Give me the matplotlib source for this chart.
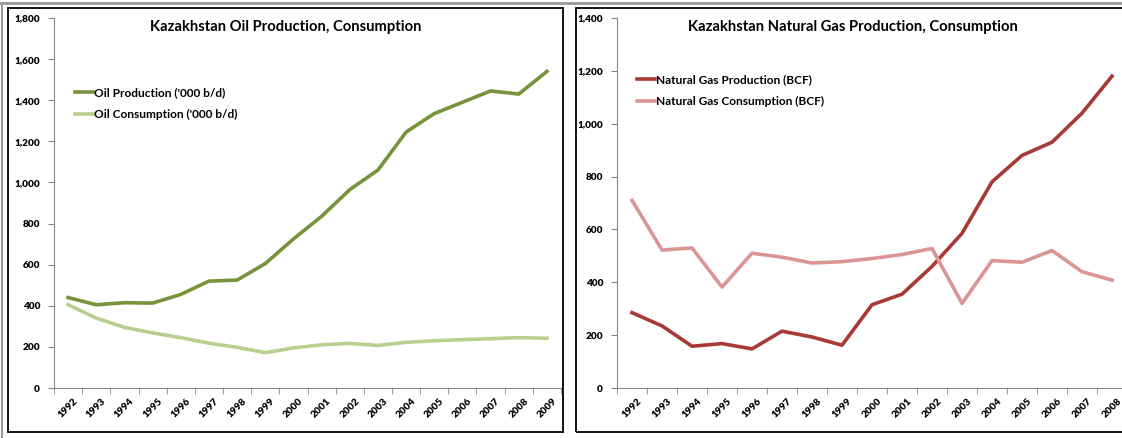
import matplotlib.pyplot as plt
from matplotlib.patches import Rectangle
from matplotlib.lines import Line2D

plt.rcParams['font.family'] = ['Lato', 'DejaVu Sans']

oil_years = [str(y) for y in range(1992, 2010)]
oil_production = [440, 405, 415, 413, 455, 520, 525, 605, 725, 835,
                  965, 1060, 1245, 1335, 1390, 1445, 1430, 1540]
oil_consumption = [405, 340, 295, 268, 245, 218, 198, 172, 195, 210,
                   217, 207, 222, 230, 235, 240, 245, 242]

gas_years = [str(y) for y in range(1992, 2009)]
gas_production = [285, 235, 158, 168, 148, 215, 193, 162, 315, 355,
                  460, 585, 780, 880, 930, 1040, 1180]
gas_consumption = [710, 522, 530, 382, 510, 495, 473, 478, 490, 505,
                   528, 320, 482, 476, 520, 440, 408]

W, H = 1122, 438
fig = plt.figure(figsize=(W / 100, H / 100), dpi=100)


def px_box(x0, y0, x1, y1):
    # pixel box (top-left origin) -> figure fraction [l, b, w, h]
    return [x0 / W, 1 - y1 / H, (x1 - x0) / W, (y1 - y0) / H]


# document lines and chart frames
fig.add_artist(Line2D([0, 1], [1 - 3 / H, 1 - 3 / H], color='#9a9a9a', lw=2))
fig.add_artist(Line2D([2 / W, 2 / W], [0, 1 - 3 / H], color='#9a9a9a', lw=1.5))
fig.add_artist(Rectangle((8 / W, 1 - 432 / H), 555 / W, 424 / H,
                         transform=fig.transFigure, fill=False, ec='black', lw=1.3))
fig.add_artist(Rectangle((576 / W, 1 - 432 / H), 600 / W, 424 / H,
                         transform=fig.transFigure, fill=False, ec='black', lw=1.3))


def style_axes(ax, labels, ymax):
    n = len(labels)
    ax.set_xlim(-0.5, n - 0.5)
    ax.set_ylim(0, ymax)
    ax.set_yticks(range(0, ymax + 1, 200))
    ax.set_yticklabels(['{:,}'.format(v) for v in range(0, ymax + 1, 200)],
                       fontsize=7.2, fontweight='heavy')
    ax.set_xticks(range(n))
    ax.set_xticklabels(labels, rotation=45, fontsize=7.2, fontweight='heavy',
                       ha='center', va='top')
    ax.tick_params(axis='x', length=0, pad=6)
    ax.set_xticks([i - 0.5 for i in range(n + 1)], minor=True)
    ax.tick_params(axis='x', which='minor', length=4, color='#888888', direction='out')
    ax.tick_params(axis='y', length=4, color='#888888', pad=6)
    for s in ['top', 'right']:
        ax.spines[s].set_visible(False)
    for s in ['left', 'bottom']:
        ax.spines[s].set_color('#888888')
        ax.spines[s].set_linewidth(0.8)
    ax.patch.set_alpha(0)


def add_legend(ax, x0, y0):
    ax.legend(loc='upper left', bbox_to_anchor=(x0 / W, 1 - y0 / H),
              bbox_transform=fig.transFigure, frameon=False,
              borderpad=0, borderaxespad=0,
              handlelength=1.5, handletextpad=0.05, labelspacing=0.9,
              prop={'size': 8.6, 'weight': 'bold'})


# left chart: oil
ax1 = fig.add_axes(px_box(54, 18, 561, 388))
x = range(len(oil_years))
ax1.plot(x, oil_production, color='#77933c', lw=2.6, label="Oil Production ('000 b/d)")
ax1.plot(x, oil_consumption, color='#b9cf8f', lw=2.6, label="Oil Consumption ('000 b/d)")
style_axes(ax1, oil_years, 1800)
fig.text(286 / W, 1 - 27 / H, 'Kazakhstan Oil Production, Consumption',
         ha='center', va='center', fontsize=10.6, fontweight='bold')
add_legend(ax1, 75, 87)

# right chart: natural gas
ax2 = fig.add_axes(px_box(617, 18, 617 + 17 * 30.0, 388))
x = range(len(gas_years))
ax2.plot(x, gas_production, color='#a83a36', lw=2.6, label='Natural Gas Production (BCF)')
ax2.plot(x, gas_consumption, color='#d99694', lw=2.6, label='Natural Gas Consumption (BCF)')
style_axes(ax2, gas_years, 1400)
fig.text(853 / W, 1 - 27 / H, 'Kazakhstan Natural Gas Production, Consumption',
         ha='center', va='center', fontsize=10.6, fontweight='bold')
add_legend(ax2, 637, 74)

fig.savefig('out.png', dpi=100)
